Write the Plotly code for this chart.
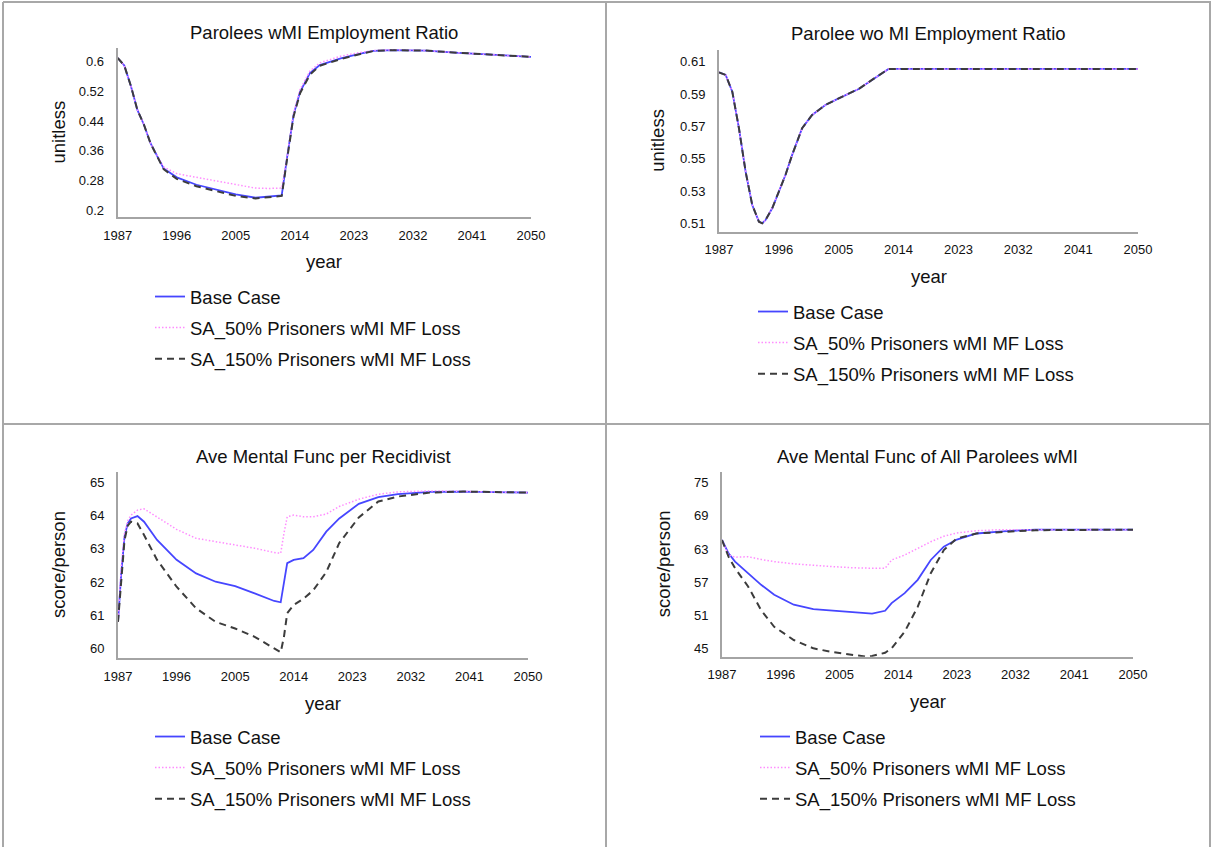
import plotly.graph_objects as go

W, H = 1212, 847
FONT = "Liberation Sans, Arial, sans-serif"

series_names = ["Base Case", "SA_50% Prisoners wMI MF Loss", "SA_150% Prisoners wMI MF Loss"]
x_ticks = [1987, 1996, 2005, 2014, 2023, 2032, 2041, 2050]

# Parolees wMI Employment Ratio
p1_years = [1987, 1988, 1989, 1990, 1991, 1992, 1994, 1996, 1999, 2002, 2005, 2008, 2010, 2012,
            2012.8, 2013.8, 2014.8, 2016.3, 2017.8, 2021, 2024, 2026, 2029, 2034, 2039, 2044, 2050]
p1_base = [0.61, 0.59, 0.535, 0.47, 0.43, 0.38, 0.312, 0.288, 0.268, 0.256, 0.242, 0.233, 0.236, 0.239,
           0.339, 0.456, 0.519, 0.569, 0.591, 0.609, 0.622, 0.629, 0.631, 0.630, 0.624, 0.619, 0.613]
p1_sa50 = [0.61, 0.59, 0.535, 0.47, 0.43, 0.38, 0.316, 0.298, 0.288, 0.279, 0.268, 0.259, 0.258, 0.259,
           0.340, 0.460, 0.525, 0.575, 0.597, 0.615, 0.625, 0.630, 0.632, 0.630, 0.624, 0.619, 0.613]
p1_sa150 = [0.61, 0.59, 0.535, 0.47, 0.43, 0.38, 0.310, 0.284, 0.264, 0.252, 0.238, 0.231, 0.235, 0.238,
            0.335, 0.452, 0.515, 0.565, 0.589, 0.607, 0.621, 0.629, 0.631, 0.630, 0.624, 0.619, 0.613]
p1_yticks = [0.2, 0.28, 0.36, 0.44, 0.52, 0.6]

# Parolee wo MI Employment Ratio
p2_years = [1987, 1988, 1989, 1990, 1991, 1992, 1993, 1993.5, 1994, 1995, 1996, 1997, 1998, 1999.5,
            2001, 2003, 2005, 2008, 2010, 2012.5, 2020, 2030, 2040, 2050]
p2_base = [0.6034, 0.6018, 0.5914, 0.5688, 0.542, 0.5213, 0.511, 0.510, 0.512, 0.5193, 0.5296, 0.540,
           0.5523, 0.5688, 0.577, 0.5832, 0.5873, 0.5931, 0.5987, 0.6055, 0.6055, 0.6055, 0.6055, 0.6055]
p2_sa50 = list(p2_base)
p2_sa150 = list(p2_base)
p2_yticks = [0.51, 0.53, 0.55, 0.57, 0.59, 0.61]

# Ave Mental Func per Recidivist
p3_years = [1987, 1987.5, 1988, 1988.5, 1989, 1990, 1991, 1993, 1996, 1999, 2002, 2005, 2008, 2011, 2012,
            2012.5, 2013, 2014, 2015.5, 2017, 2019, 2021, 2024, 2027, 2030, 2035, 2040, 2050]
p3_base = [60.8, 62.26, 63.37, 63.77, 63.92, 63.99, 63.82, 63.27, 62.67, 62.26, 62.01, 61.88, 61.66, 61.43,
           61.39, 61.96, 62.57, 62.67, 62.72, 62.97, 63.52, 63.92, 64.36, 64.56, 64.65, 64.72, 64.73, 64.70]
p3_sa50 = [60.8, 62.46, 63.47, 63.85, 64.02, 64.17, 64.21, 63.97, 63.59, 63.32, 63.22, 63.12, 63.02, 62.89,
           62.87, 63.47, 63.97, 64.02, 63.97, 63.97, 64.05, 64.28, 64.50, 64.65, 64.72, 64.75, 64.74, 64.70]
p3_sa150 = [60.8, 62.06, 63.27, 63.70, 63.82, 63.77, 63.42, 62.67, 61.86, 61.21, 60.80, 60.60, 60.35, 60.00,
            59.88, 60.35, 61.06, 61.31, 61.50, 61.75, 62.30, 63.18, 63.95, 64.43, 64.58, 64.70, 64.73, 64.70]
p3_yticks = [60, 61, 62, 63, 64, 65]

# Ave Mental Func of All Parolees wMI
p4_years = [1987, 1988, 1989, 1991, 1993, 1995, 1998, 2001, 2004, 2007, 2009, 2010, 2012, 2013, 2015,
            2017, 2019, 2021, 2023, 2026, 2030, 2035, 2050]
p4_base = [64.62, 62.2, 60.7, 58.6, 56.5, 54.7, 52.9, 52.1, 51.8, 51.6, 51.4, 51.3, 51.8, 53.2, 55.0,
           57.4, 61.0, 63.4, 64.7, 65.8, 66.2, 66.5, 66.5]
p4_sa50 = [64.62, 61.9, 61.5, 61.6, 61.1, 60.7, 60.3, 60.0, 59.8, 59.6, 59.5, 59.5, 59.5, 61.0, 61.9,
           63.1, 64.3, 65.3, 65.9, 66.3, 66.5, 66.5, 66.5]
p4_sa150 = [64.62, 61.6, 59.5, 56.2, 51.9, 48.9, 46.5, 45.0, 44.3, 43.8, 43.5, 43.6, 44.2, 45.0, 48.0,
            52.5, 58.6, 62.8, 64.9, 65.8, 66.1, 66.4, 66.5]
p4_yticks = [45, 51, 57, 63, 69, 75]

panels = [
    dict(title="Parolees wMI Employment Ratio", ytitle="unitless", years=p1_years,
         ys=[p1_base, p1_sa50, p1_sa150], yticks=p1_yticks, yrange=[0.181, 0.637],
         box=(117.7, 531, 48, 217), ytx=58, legend=(150, 292)),
    dict(title="Parolee wo MI Employment Ratio", ytitle="unitless", years=p2_years,
         ys=[p2_base, p2_sa50, p2_sa150], yticks=p2_yticks, yrange=[0.5048, 0.6172],
         box=(719, 1138, 50, 231.7), ytx=658, legend=(753, 307)),
    dict(title="Ave Mental Func per Recidivist", ytitle="score/person", years=p3_years,
         ys=[p3_base, p3_sa50, p3_sa150], yticks=p3_yticks, yrange=[59.71, 65.32],
         box=(118, 528, 472, 658), ytx=58, legend=(150, 732)),
    dict(title="Ave Mental Func of All Parolees wMI", ytitle="score/person", years=p4_years,
         ys=[p4_base, p4_sa50, p4_sa150], yticks=p4_yticks, yrange=[43.48, 76.94],
         box=(722, 1133, 472, 656.7), ytx=663, legend=(755, 732)),
]

styles = [
    dict(color="#4646ff", width=1.8, dash="solid"),
    dict(color="#ff8cff", width=1.5, dash="1.5px,2px"),
    dict(color="#3c3c3c", width=2, dash="7px,5px"),
]

fig = go.Figure()
annotations = []
layout = {}

def note(text, x, y, angle=0):
    return dict(text=text, x=x / W, y=1 - y / H, xref="paper", yref="paper",
                xanchor="center", yanchor="middle", showarrow=False, textangle=angle,
                font=dict(size=18.5, color="#111", family=FONT))

for i, p in enumerate(panels):
    n = "" if i == 0 else str(i + 1)
    x0, x1, y0, y1 = p["box"]
    leg = "legend" + n
    for j in range(3):
        fig.add_trace(go.Scatter(
            x=p["years"], y=p["ys"][j], mode="lines", name=series_names[j],
            line=styles[j], xaxis="x" + n, yaxis="y" + n,
            legend=leg, legendgroup=leg + str(j), showlegend=True))

    layout["xaxis" + n] = dict(
        domain=[x0 / W, x1 / W], anchor="y" + n, range=[1987, 2050],
        tickvals=x_ticks, showgrid=False, zeroline=False,
        showline=True, linecolor="#a4a4a4", linewidth=2,
        ticks="", ticklabelstandoff=5, tickfont=dict(size=13, color="#111", family=FONT))
    layout["yaxis" + n] = dict(
        domain=[1 - y1 / H, 1 - y0 / H], anchor="x" + n, range=p["yrange"],
        tickvals=p["yticks"], showgrid=False, zeroline=False,
        showline=True, linecolor="#a4a4a4", linewidth=2,
        ticks="", ticklabelstandoff=9, tickfont=dict(size=13, color="#111", family=FONT))
    lx, ly = p["legend"]
    layout[leg] = dict(x=lx / W, y=1 - (ly - 14) / H, xanchor="left", yanchor="top",
                       bgcolor="rgba(0,0,0,0)", tracegroupgap=4,
                       font=dict(size=18.5, color="#111", family=FONT))

    annotations.append(note(p["title"], (x0 + x1) / 2, y0 - 16))
    annotations.append(note("year", (x0 + x1) / 2, y1 + 45))
    annotations.append(note(p["ytitle"], p["ytx"], (y0 + y1) / 2, -90))

# table borders
border = dict(color="#a8a8a8", width=2)
shapes = [
    dict(type="line", xref="paper", yref="paper", x0=3 / W, x1=1211 / W, y0=1 - 2 / H, y1=1 - 2 / H, line=border),
    dict(type="line", xref="paper", yref="paper", x0=3 / W, x1=3 / W, y0=0, y1=1 - 2 / H, line=border),
    dict(type="line", xref="paper", yref="paper", x0=1210 / W, x1=1210 / W, y0=0, y1=1 - 2 / H, line=border),
    dict(type="line", xref="paper", yref="paper", x0=606 / W, x1=606 / W, y0=0, y1=1 - 2 / H, line=border),
    dict(type="line", xref="paper", yref="paper", x0=3 / W, x1=1211 / W, y0=1 - 424 / H, y1=1 - 424 / H, line=border),
]

fig.update_layout(
    width=W, height=H,
    margin=dict(l=0, r=0, t=0, b=0, autoexpand=False),
    paper_bgcolor="white", plot_bgcolor="white",
    annotations=annotations, shapes=shapes,
    **layout,
)

fig.write_html("out.html", config={"displayModeBar": False},
               post_script="document.body.style.margin='0';document.body.style.overflow='hidden';")
